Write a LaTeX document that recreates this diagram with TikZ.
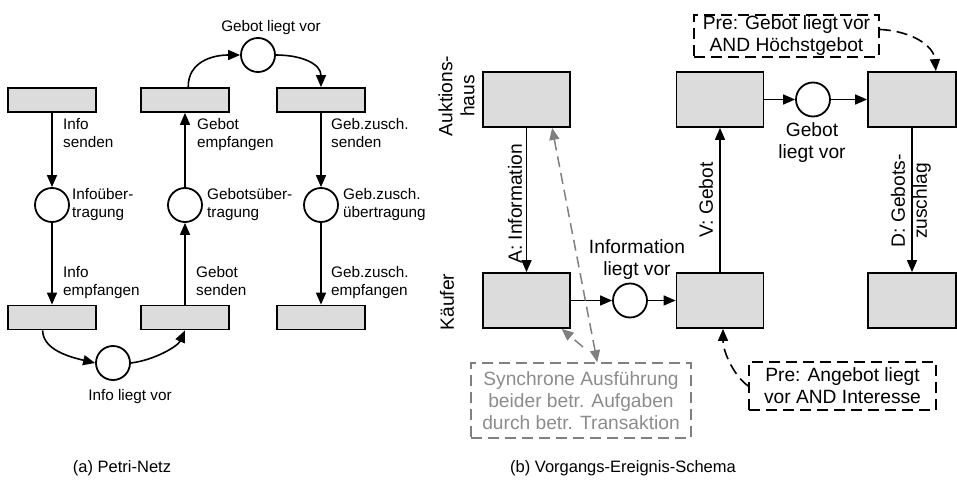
\documentclass[tikz,border=0pt]{standalone}
\usepackage{fontspec}
\setmainfont{Liberation Sans}
\usetikzlibrary{arrows.meta}
\definecolor{boxfill}{HTML}{DCDCDC}
\definecolor{grayline}{HTML}{808080}
\definecolor{graytext}{HTML}{8C8C8C}
\tikzset{
  trans/.style={draw, line width=1.8pt, fill=boxfill, inner sep=0pt},
  ptrans/.style={trans, minimum width=88pt, minimum height=24pt},
  vtrans/.style={trans, minimum width=87pt, minimum height=55pt},
  place/.style={circle, draw, line width=1.8pt, fill=white, minimum size=34pt, inner sep=0pt},
  arr/.style={line width=1.6pt, -{Triangle[length=12pt,width=10pt]}},
  smalltxt/.style={font=\fontsize{15.3}{18}\selectfont, inner sep=0pt},
  bigtxt/.style={font=\fontsize{19.2}{22}\selectfont, inner sep=0pt},
  capt/.style={font=\fontsize{16.5}{19}\selectfont, inner sep=0pt},
  prebox/.style={draw, line width=1.6pt, dash pattern=on 11pt off 6pt, align=center, inner sep=0pt, bigtxt},
  dasharr/.style={line width=1.6pt, dash pattern=on 11pt off 6pt, -{Triangle[length=12pt,width=10pt]}},
  grayboth/.style={line width=1.5pt, draw=grayline, dash pattern=on 11pt off 6pt, {Triangle[length=12pt,width=10pt,fill=grayline]}-{Triangle[length=12pt,width=10pt,fill=grayline]}},
  grayone/.style={line width=1.5pt, draw=grayline, dash pattern=on 11pt off 6pt, -{Triangle[length=12pt,width=10pt,fill=grayline]}},
}
\begin{document}
\begin{tikzpicture}[x=1pt,y=-1pt]
\useasboundingbox (0,0) rectangle (957,484);
% ---------- (a) Petri-Netz ----------
\node[ptrans] (T1) at (52,100) {};
\node[ptrans] (T2) at (185,100) {};
\node[ptrans] (T3) at (321,100) {};
\node[ptrans] (B1) at (52,317.5) {};
\node[ptrans] (B2) at (185,317.5) {};
\node[ptrans] (B3) at (321,317.5) {};
\node[place] (P1) at (52,205) {};
\node[place] (P2) at (185,205) {};
\node[place] (P3) at (321,205) {};
\node[place] (Ptop) at (258,55) {};
\node[place] (Pbot) at (113,363) {};

\draw[arr] (T1.south) -- (P1.north);
\draw[arr] (P1.south) -- (B1.north);
\draw[arr] (B2.north) -- (P2.south);
\draw[arr] (P2.north) -- (T2.south);
\draw[arr] (T3.south) -- (P3.north);
\draw[arr] (P3.south) -- (B3.north);
\draw[arr] (T2.76) .. controls (188,62) and (212,55) .. (Ptop.west);
\draw[arr] (Ptop.east) .. controls (302,55) and (321,64) .. (T3.north);
\draw[arr] (B1.-126) .. controls (43,350) and (70,357) .. (Pbot.west);
\draw[arr] (Pbot.east) .. controls (155,360) and (178,346) .. (B2.south);

\node[smalltxt, anchor=north west, align=left] (l1) at (63,118) {Info\\senden};
\node[smalltxt, anchor=north west, align=left] (l2) at (72,188) {Infoüber-\\tragung};
\node[smalltxt, anchor=north west, align=left] (l3) at (63,266) {Info\\empfangen};
\node[smalltxt, anchor=north west, align=left] (l4) at (197,118) {Gebot\\empfangen};
\node[smalltxt, anchor=north west, align=left] (l5) at (207,188) {Gebotsüber-\\tragung};
\node[smalltxt, anchor=north west, align=left] (l6) at (196,266) {Gebot\\senden};
\node[smalltxt, anchor=north west, align=left] (l7) at (331,118) {Geb.zusch.\\senden};
\node[smalltxt, anchor=north west, align=left] (l8) at (343,188) {Geb.zusch.\\übertragung};
\node[smalltxt, anchor=north west, align=left] (l9) at (331,266) {Geb.zusch.\\empfangen};
\node[smalltxt] (ltop) at (271,28) {Gebot liegt vor};
\node[smalltxt] (lbot) at (130,397) {Info liegt vor};
\node[capt] (capa) at (122,468) {(a) Petri-Netz};

% ---------- (b) Vorgangs-Ereignis-Schema ----------
\node[vtrans] (A1) at (526.5,99.5) {};
\node[vtrans] (A2) at (720,99.5) {};
\node[vtrans, minimum width=88pt] (A3) at (912,99.5) {};
\node[vtrans] (K1) at (526.5,300.5) {};
\node[vtrans] (K2) at (720,300.5) {};
\node[vtrans, minimum width=88pt] (K3) at (912,300.5) {};
\node[place] (Ctop) at (813,99.5) {};
\node[place] (Cbot) at (630,300.5) {};

\draw[arr] (A1.south) -- (K1.north);
\draw[arr] (K2.north) -- (A2.south);
\draw[arr] (A3.south) -- (K3.north);
\draw[arr] (A2.east) -- (Ctop.west);
\draw[arr] (Ctop.east) -- (A3.west);
\draw[arr] (K1.east) -- (Cbot.west);
\draw[arr] (Cbot.east) -- (K2.west);

\node[bigtxt, rotate=90, align=center] (lauk) at (456.5,96) {Auktions-\\haus};
\node[bigtxt, rotate=90] (lkae) at (447,302) {Käufer};
\node[bigtxt, rotate=90] (lA) at (515,204) {A: Information};
\node[bigtxt, rotate=90] (lV) at (706,200) {V: Gebot};
\node[bigtxt, rotate=90, align=center] (lD) at (911,201) {D: Gebots-\\zuschlag};
\node[bigtxt, align=center] (lgeb) at (812,143) {Gebot\\liegt vor};
\node[bigtxt, align=center] (linf) at (637,260) {Information\\liegt vor};

\node[prebox, minimum width=185pt, minimum height=42pt] (pre1) at (786.5,36) {Pre: Gebot liegt vor\\AND Höchstgebot};
\node[prebox, minimum width=187pt, minimum height=48pt] (pre2) at (842.5,386) {Pre: Angebot liegt\\vor AND Interesse};
\node[prebox, draw=grayline, text=graytext, minimum width=220pt, minimum height=75pt] (sync) at (581,400.5) {Synchrone Ausführung\\beider betr. Aufgaben\\durch betr. Transaktion};

\draw[dasharr] (pre1.4) .. controls (912,31) and (934,46) .. (A3.50);
\draw[dasharr] (pre2.west) .. controls (734,376) and (723,352) .. (K2.-84);
\draw[grayboth] (sync.67) -- (A1.-48);
\coordinate (gs) at (583,347);
\draw[grayone] (gs) -- (K1.-39);

\node[capt] (capb) at (623,468) {(b) Vorgangs-Ereignis-Schema};
\end{tikzpicture}
\end{document}
